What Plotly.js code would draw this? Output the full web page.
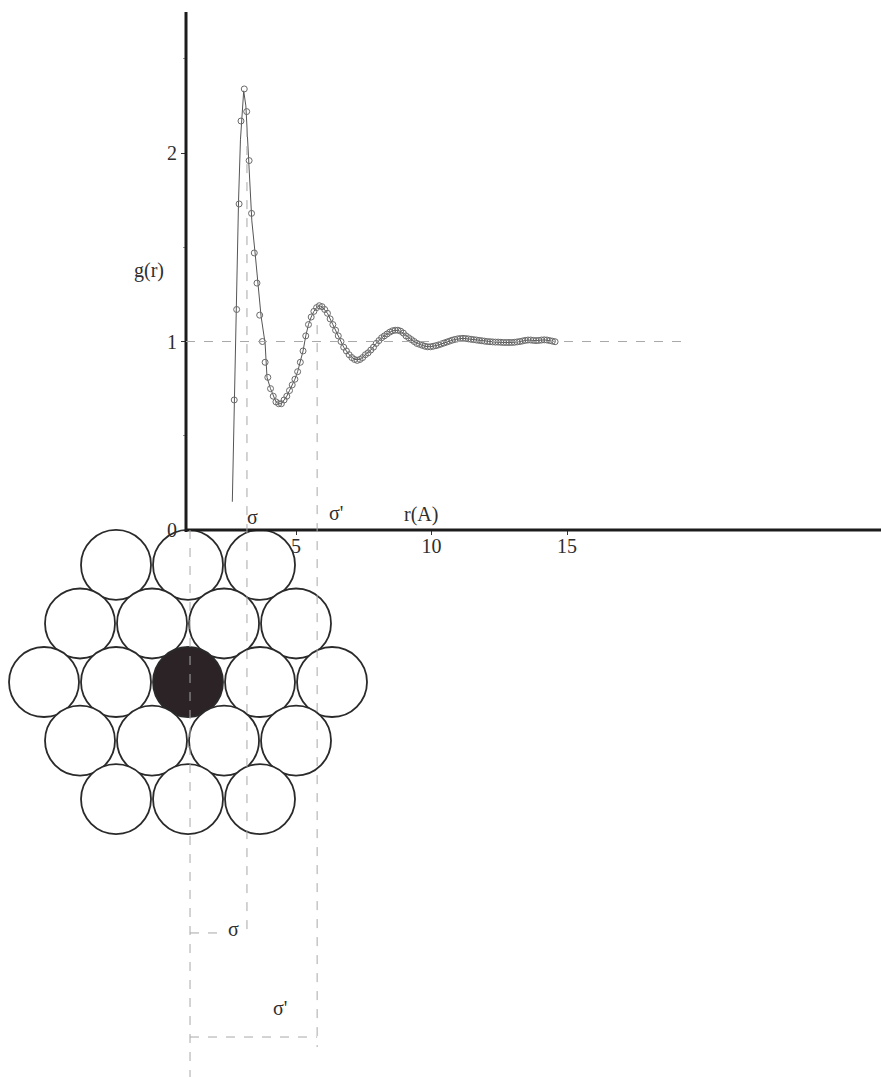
<!DOCTYPE html>
<html>
<head>
<meta charset="utf-8">
<script src="https://cdn.plot.ly/plotly-3.0.1.min.js"></script>
<style>
  html, body { margin: 0; padding: 0; background: #fff; }
  #chart { width: 881px; height: 1077px; }
</style>
</head>
<body>
<div id="chart"></div>
<script>
// ---- Data ----
// g(r) open-circle markers (r in Å, g dimensionless)
const markerR = [2.72, 2.81, 2.90, 2.97, 3.09, 3.18, 3.27, 3.36, 3.46, 3.56, 3.66, 3.76, 3.86, 3.96,
  4.06, 4.16, 4.26, 4.36, 4.46, 4.56, 4.66, 4.76, 4.86, 4.96, 5.06, 5.16, 5.26, 5.36, 5.46, 5.56,
  5.66, 5.76, 5.86, 5.96, 6.06, 6.16, 6.26, 6.36, 6.46, 6.56, 6.66, 6.76, 6.86, 6.96, 7.06, 7.16,
  7.26, 7.36, 7.46, 7.56, 7.66, 7.76, 7.86, 7.96, 8.06, 8.16, 8.26, 8.36, 8.46, 8.56, 8.66, 8.76,
  8.86, 8.96, 9.06, 9.16, 9.26, 9.36, 9.46, 9.56, 9.66, 9.76, 9.86, 9.96, 10.06, 10.16, 10.26,
  10.36, 10.46, 10.56, 10.66, 10.76, 10.86, 10.96, 11.06, 11.16, 11.26, 11.36, 11.46, 11.56,
  11.66, 11.76, 11.86, 11.96, 12.06, 12.16, 12.26, 12.36, 12.46, 12.56, 12.66, 12.76, 12.86,
  12.96, 13.06, 13.16, 13.26, 13.36, 13.46, 13.56, 13.66, 13.76, 13.86, 13.96, 14.06, 14.16,
  14.26, 14.36, 14.46, 14.56];
const markerG = [0.69, 1.17, 1.73, 2.17, 2.34, 2.22, 1.96, 1.68, 1.47, 1.31, 1.14, 1.00, 0.89, 0.81,
  0.75, 0.71, 0.68, 0.67, 0.67, 0.69, 0.71, 0.74, 0.77, 0.80, 0.84, 0.89, 0.95, 1.03, 1.09, 1.13,
  1.16, 1.18, 1.19, 1.185, 1.17, 1.15, 1.12, 1.09, 1.06, 1.03, 1.00, 0.97, 0.95, 0.93, 0.915, 0.905,
  0.90, 0.905, 0.915, 0.93, 0.94, 0.955, 0.97, 0.99, 1.005, 1.02, 1.03, 1.04, 1.05, 1.057, 1.06, 1.06,
  1.055, 1.045, 1.03, 1.02, 1.01, 1.00, 0.99, 0.985, 0.98, 0.975, 0.972, 0.972, 0.975, 0.978, 0.982,
  0.987, 0.992, 0.997, 1.002, 1.007, 1.011, 1.014, 1.016, 1.017, 1.016, 1.014, 1.012, 1.010,
  1.008, 1.006, 1.004, 1.002, 1.000, 0.999, 0.998, 0.997, 0.997, 0.996, 0.995, 0.995, 0.995,
  0.995, 0.996, 0.998, 1.000, 1.003, 1.006, 1.008, 1.008, 1.006, 1.005, 1.006, 1.008, 1.009,
  1.008, 1.005, 1.002, 0.999];

// g(r) solid line
const lineR = [2.65, 2.71, 2.77, 2.82, 2.88, 2.95, 3.01, 3.07, 3.15, 3.25, 3.37, 3.49, 3.60, 3.71,
  3.86, 3.93, 4.06, 4.16, 4.26, 4.36, 4.46, 4.56, 4.66, 4.76, 4.86, 4.96, 5.06, 5.16, 5.26, 5.36,
  5.46, 5.56, 5.66, 5.76, 5.86, 5.96, 6.16, 6.36, 6.56, 6.76, 6.96, 7.16, 7.36, 7.56, 7.76, 7.96,
  8.16, 8.36, 8.56, 8.76, 8.96, 9.16, 9.36, 9.56, 9.76, 9.96, 10.26, 10.56, 10.86, 11.16, 11.46,
  11.76, 12.06, 12.36, 12.66, 12.96, 13.26, 13.56, 13.86, 14.16, 14.56];
const lineG = [0.15, 0.58, 0.95, 1.38, 1.75, 2.07, 2.23, 2.33, 2.25, 1.97, 1.64, 1.47, 1.31, 1.135,
  0.99, 0.81, 0.75, 0.71, 0.68, 0.67, 0.67, 0.69, 0.71, 0.74, 0.77, 0.80, 0.84, 0.89, 0.95, 1.03,
  1.09, 1.13, 1.16, 1.18, 1.19, 1.185, 1.15, 1.09, 1.03, 0.97, 0.93, 0.905, 0.905, 0.93, 0.955, 0.99,
  1.02, 1.04, 1.057, 1.06, 1.045, 1.02, 1.00, 0.985, 0.975, 0.972, 0.982, 0.997, 1.011, 1.017, 1.012,
  1.006, 1.000, 0.997, 0.995, 0.995, 1.000, 1.008, 1.005, 1.009, 0.999];

// tick labels
const xTicks = [5, 10, 15];
const xTickText = ['5', '10', '15'];
const yTicks = [0, 1, 2];
const yTickText = ['0', '1', '2'];
const yMinorTicks = [0.5, 1.5, 2.5];

// distances marked on the diagram (Å)
const sigmaR = 3.19;
const sigmaPrimeR = 5.78;

// hexagonal packing: column offset and row index of each sphere (centre sphere at 0,0)
const latCol = [-1, 0, 1, -1.5, -0.5, 0.5, 1.5, -2, -1, 0, 1, 2, -1.5, -0.5, 0.5, 1.5, -1, 0, 1];
const latRow = [2, 2, 2, 1, 1, 1, 1, 0, 0, 0, 0, 0, -1, -1, -1, -1, -2, -2, -2];

// ---- Layout geometry ----
const R0 = 0.941;            // r at the axis origin
const CX = 1.015, CY = -5.61; // diagram centre (x in Å, y2 units)
const DX = 2.657, DY = 2.16;  // lattice spacings
const originLineX = 1.089;

const circX = latCol.map(c => CX + c * DX);
const circY = latRow.map(r => CY + r * DY);
const circFill = latCol.map((c, i) => (c === 0 && latRow[i] === 0) ? '#2b2326' : '#ffffff');

const serif = 'Liberation Serif, Times New Roman, serif';
const txt = '#2e2e2e';
const dashCol = '#a8a8a8';

const traces = [
  {
    x: circX, y: circY, xaxis: 'x', yaxis: 'y2', type: 'scatter', mode: 'markers',
    marker: { symbol: 'circle', size: 70, color: circFill, line: { color: '#2a2a2a', width: 1.8 } },
    hoverinfo: 'skip', showlegend: false
  },
  {
    x: lineR, y: lineG, xaxis: 'x', yaxis: 'y', type: 'scatter', mode: 'lines',
    line: { color: '#555', width: 1 }, showlegend: false
  },
  {
    x: markerR, y: markerG, xaxis: 'x', yaxis: 'y', type: 'scatter', mode: 'markers',
    marker: { symbol: 'circle-open', size: 6, color: '#6a6a6a', line: { width: 1 } }, showlegend: false
  }
];

const dashLine = { color: dashCol, width: 1, dash: 'dash' };
const shapes = [
  // axis lines
  { type: 'line', xref: 'x', yref: 'y', x0: R0, x1: 26.6, y0: 0, y1: 0, line: { color: '#1c1c1c', width: 3 }, layer: 'above' },
  { type: 'line', xref: 'x', yref: 'y', x0: R0, x1: R0, y0: -0.01, y1: 2.748, line: { color: '#1c1c1c', width: 3 }, layer: 'above' },
  // g = 1 guide
  { type: 'line', xref: 'x', yref: 'y', x0: R0, x1: 19.43, y0: 1, y1: 1, line: dashLine, layer: 'above' },
  // vertical guides
  { type: 'line', xref: 'x', yref: 'y2', x0: sigmaR, x1: sigmaR, y0: 14.83, y1: -14.94, line: dashLine, layer: 'above' },
  { type: 'line', xref: 'x', yref: 'y2', x0: sigmaPrimeR, x1: sigmaPrimeR, y0: 7.56, y1: -19.08, line: dashLine, layer: 'above' },
  { type: 'line', xref: 'x', yref: 'y2', x0: originLineX, x1: originLineX, y0: 0, y1: -20.2, line: dashLine, layer: 'above' },
  // horizontal distance markers
  { type: 'line', xref: 'x', yref: 'y2', x0: originLineX, x1: 2.38, y0: -14.87, y1: -14.87, line: dashLine, layer: 'above' },
  { type: 'line', xref: 'x', yref: 'y2', x0: originLineX, x1: sigmaPrimeR, y0: -18.71, y1: -18.71, line: dashLine, layer: 'above' }
];

const ann = (text, x, y, yref) => ({
  text, x, y, xref: 'x', yref: yref || 'y', showarrow: false,
  font: { family: serif, size: 20, color: txt }, xanchor: 'center', yanchor: 'middle'
});

const annotations = [
  ann('g(r)', -0.42, 1.379),
  ann('r(A)', 9.61, 0.085),
  ann('σ', 3.38, 0.068),
  ann("σ'", 6.48, 0.09),
  ann('σ', 2.675, -14.72, 'y2'),
  ann("σ'", 4.41, -17.64, 'y2')
];

const layout = {
  width: 881, height: 1077,
  margin: { l: 0, r: 0, t: 0, b: 0, pad: 0 },
  paper_bgcolor: '#fff', plot_bgcolor: '#fff',
  showlegend: false,
  xaxis: {
    domain: [0, 1], range: [-5.923, 26.587], anchor: 'free', position: 0.5079,
    showgrid: false, zeroline: false, showline: false,
    tickmode: 'array', tickvals: xTicks, ticktext: xTickText,
    ticks: 'outside', ticklen: 4, tickwidth: 1, tickcolor: '#333',
    ticklabelstandoff: -6,
    tickfont: { family: serif, size: 20, color: txt }
  },
  yaxis: {
    domain: [0, 1], range: [-2.902, 2.812], anchor: 'free', position: 0.2111,
    showgrid: false, zeroline: false, showline: false,
    tickmode: 'array', tickvals: yTicks, ticktext: yTickText,
    ticks: 'outside', ticklen: 5, tickwidth: 1, tickcolor: '#333',
    tickfont: { family: serif, size: 20, color: txt },
    minor: { tickmode: 'array', tickvals: yMinorTicks, ticks: 'outside', ticklen: 3, tickcolor: '#999', showgrid: false }
  },
  yaxis2: {
    overlaying: 'y', anchor: 'x', range: [-20.185, 19.557], visible: false,
    showgrid: false, zeroline: false
  },
  shapes, annotations
};

Plotly.newPlot('chart', traces, layout, { staticPlot: true, displayModeBar: false });
</script>
</body>
</html>
